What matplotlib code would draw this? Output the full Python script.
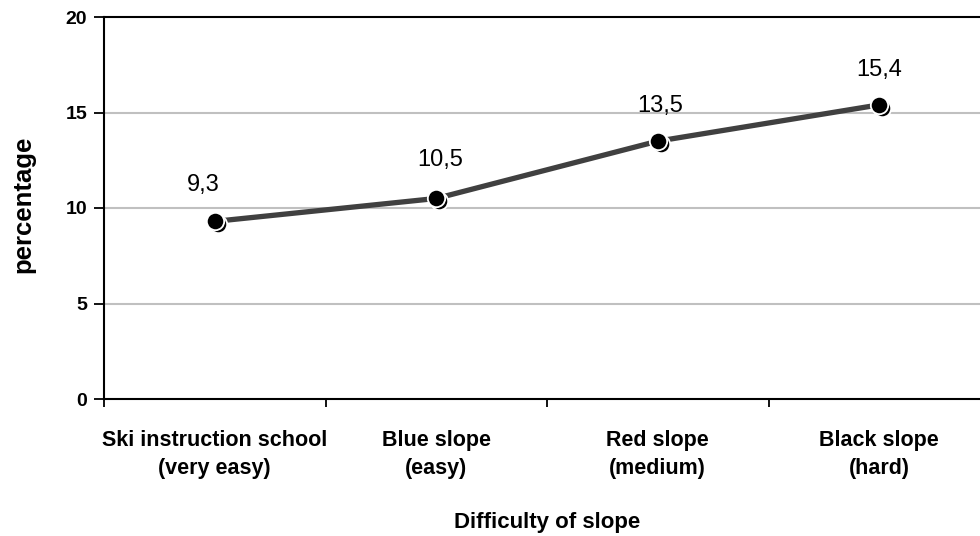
import matplotlib
matplotlib.use("Agg")
import matplotlib.pyplot as plt
import matplotlib.transforms as mtransforms
import numpy as np

plt.rcParams['font.family'] = ['Liberation Sans', 'DejaVu Sans']

categories = ["Ski instruction school\n(very easy)", "Blue slope\n(easy)",
              "Red slope\n(medium)", "Black slope\n(hard)"]
values = [9.3, 10.5, 13.5, 15.4]
value_labels = ["9,3", "10,5", "13,5", "15,4"]
yticks = [0, 5, 10, 15, 20]

fig = plt.figure(figsize=(9.8, 5.36), dpi=100)
ax = fig.add_axes([104 / 980, 1 - 399 / 536, 886 / 980, 382 / 536])

x = np.arange(len(categories))
ax.set_xlim(-0.5, len(categories) - 0.5)
ax.set_ylim(0, 20)

for yv in yticks[1:-1]:
    ax.axhline(yv, color="#c0c0c0", lw=1.5, zorder=1)

ax.plot(x, values, color="#404040", lw=3.8, zorder=3, solid_capstyle="butt")

# drop shadow under each marker, then the marker itself
shift = mtransforms.ScaledTranslation(3 / 100, -3 / 100, fig.dpi_scale_trans)
ax.plot(x, values, ls="none", marker="o", ms=12.5, mfc="black", mec="white", mew=1.3,
        zorder=3.5, transform=ax.transData + shift)
ax.plot(x, values, ls="none", marker="o", ms=12.5, mfc="black", mec="white", mew=1.3,
        zorder=4)

label_dx = [-8, 3, 2, 0]
label_dy = [26, 28, 25, 25]
for xi, v, t, dx, dy in zip(x, values, value_labels, label_dx, label_dy):
    ax.annotate(t, (xi, v), xytext=(dx, dy), textcoords="offset points",
                ha="center", va="center", fontsize=17, color="black")

ax.set_yticks(yticks)
ax.set_yticklabels([str(t) for t in yticks], fontsize=14, fontweight="bold")
ax.set_xticks(np.arange(-0.5, len(categories) + 0.5, 1.0))
ax.set_xticklabels([])
ax.set_xticks(x, minor=True)
ax.set_xticklabels(categories, minor=True, fontsize=15.5, fontweight="bold",
                   linespacing=1.45)
ax.tick_params(axis="x", which="minor", length=0, pad=22)
ax.tick_params(axis="x", which="major", length=6, width=1.3, direction="out")
ax.tick_params(axis="y", length=7, width=1.3, direction="out", pad=5)

for s in ["left", "top", "bottom", "right"]:
    ax.spines[s].set_linewidth(1.5)
    ax.spines[s].set_color("black")

# y-axis title placed in figure coordinates near the left edge
fig.text(23 / 980, 1 - 204 / 536, "percentage", rotation=90,
         ha="center", va="center", fontsize=18.5, fontweight="bold")
ax.set_xlabel("Difficulty of slope", fontsize=16, fontweight="bold", labelpad=24)

fig.savefig("out.png", dpi=100)
